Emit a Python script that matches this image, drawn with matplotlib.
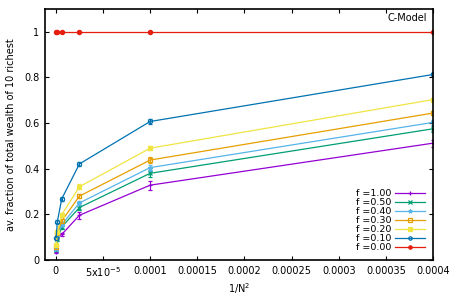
import matplotlib
matplotlib.use("Agg")
import matplotlib.pyplot as plt
from matplotlib.ticker import FixedLocator
from matplotlib.lines import Line2D

x = [3.9e-7, 1.5625e-6, 6.25e-6, 2.5e-5, 1e-4, 4e-4]

labels = ["f =1.00", "f =0.50", "f =0.40", "f =0.30", "f =0.20", "f =0.10", "f =0.00"]
y_f100 = [0.037, 0.10, 0.112, 0.196, 0.328, 0.512]
y_f050 = [0.045, 0.09, 0.145, 0.230, 0.380, 0.575]
y_f040 = [0.050, 0.105, 0.155, 0.250, 0.405, 0.603]
y_f030 = [0.056, 0.117, 0.171, 0.280, 0.438, 0.644]
y_f020 = [0.064, 0.122, 0.199, 0.321, 0.490, 0.703]
y_f010 = [0.098, 0.168, 0.268, 0.421, 0.607, 0.813]
y_f000 = [1.0, 1.0, 1.0, 1.0, 1.0, 1.0]

e_f100 = [0.005, 0.008, 0.008, 0.015, 0.020, 0.015]
e_f050 = [0.004, 0.006, 0.007, 0.012, 0.015, 0.012]
e_f040 = [0.004, 0.006, 0.007, 0.010, 0.013, 0.010]
e_f030 = [0.004, 0.006, 0.007, 0.010, 0.012, 0.010]
e_f020 = [0.004, 0.006, 0.007, 0.010, 0.010, 0.008]
e_f010 = [0.004, 0.006, 0.008, 0.010, 0.010, 0.008]
e_f000 = [0.0, 0.0, 0.0, 0.0, 0.0, 0.0]

series = [y_f100, y_f050, y_f040, y_f030, y_f020, y_f010, y_f000]
errors = [e_f100, e_f050, e_f040, e_f030, e_f020, e_f010, e_f000]
colors = ["#9400D3", "#009E73", "#56B4E9", "#E69F00", "#F0E442", "#0072B2", "#E51E10"]
markers = ["+", "x", "*", "s", "s", "o", "o"]
filled = [True, True, True, False, True, False, True]

xticks = [0, 5e-5, 1e-4, 1.5e-4, 2e-4, 2.5e-4, 3e-4, 3.5e-4, 4e-4]
xticklabels = ["0", r"5x10$^{-5}$", "0.0001", "0.00015", "0.0002", "0.00025", "0.0003", "0.00035", "0.0004"]
yticks = [0, 0.2, 0.4, 0.6, 0.8, 1.0]
yticklabels = ["0", "0.2", "0.4", "0.6", "0.8", "1"]

fig = plt.figure(figsize=(4.5, 3), dpi=100)
ax = fig.add_axes([0.1, 0.1333, 0.8622, 0.8367])

handles = []
for ys, es, c, m, fl, lab in zip(series, errors, colors, markers, filled, labels):
    ms = 3.0 if m in ("o", "s") else 3.5
    ax.errorbar(x, ys, yerr=es, color=c, lw=0.9, marker=m, ms=ms,
                mfc=(c if fl else "none"), mec=c, mew=0.9,
                capsize=1.5, elinewidth=0.8, capthick=0.8)
    handles.append(Line2D([], [], color=c, lw=0.9, marker=m, ms=ms * 0.8,
                          mfc=(c if fl else "none"), mec=c, mew=0.9, label=lab))

ax.set_xlim(-1.15e-5, 4e-4)
ax.set_ylim(0, 1.1)
ax.xaxis.set_major_locator(FixedLocator(xticks))
ax.set_xticklabels(xticklabels)
ax.yaxis.set_major_locator(FixedLocator(yticks))
ax.set_yticklabels(yticklabels)
ax.tick_params(direction="in", top=True, right=True, length=3, width=0.8,
               labelsize=7, colors="black", pad=4)
for s in ax.spines.values():
    s.set_linewidth(1.2)

ax.set_xlabel(r"1/N$^2$", fontsize=7, labelpad=1)
ax.set_ylabel("av. fraction of total wealth of 10 richest", fontsize=7, labelpad=6)

ax.text(0.985, 0.985, "C-Model", transform=ax.transAxes, ha="right", va="top", fontsize=7)

leg = ax.legend(handles=handles, loc="lower right", fontsize=6.8, frameon=False,
                markerfirst=False, handlelength=3.2, handletextpad=0.4,
                labelspacing=0.0, borderaxespad=0.4)

fig.savefig("out.png", dpi=100)
